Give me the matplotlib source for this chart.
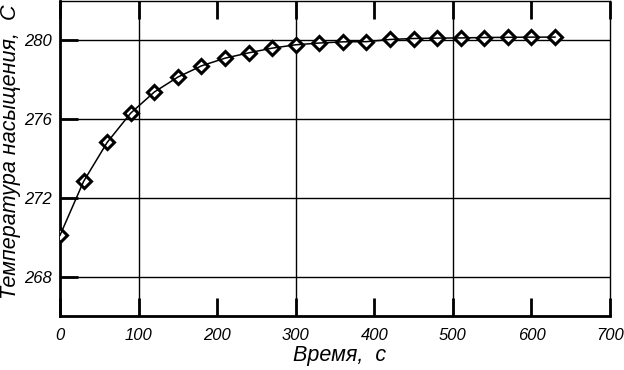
import matplotlib
matplotlib.use("Agg")
import matplotlib.pyplot as plt

time_s = [0, 30, 60, 90, 120, 150, 180, 210, 240, 270, 300,
          330, 360, 390, 420, 450, 480, 510, 540, 570, 600, 630]
t_sat = [270.1, 272.84, 274.82, 276.31, 277.38, 278.14, 278.71, 279.10,
         279.37, 279.61, 279.78, 279.87, 279.93, 279.94, 280.05, 280.1,
         280.12, 280.13, 280.15, 280.16, 280.17, 280.17]

x_ticks = [0, 100, 200, 300, 400, 500, 600, 700]
y_ticks = [268, 272, 276, 280]

plt.rcParams["font.family"] = ["Liberation Sans", "DejaVu Sans"]

fig = plt.figure(figsize=(6.24, 3.70), dpi=100)
ax = fig.add_axes([0.0962, 0.146, 0.8814, 0.851])

# grid only at some of the ticks, as in the original
for xv in [100, 300, 500]:
    ax.axvline(xv, color="black", lw=1.0, zorder=1)
for yv in y_ticks:
    ax.axhline(yv, color="black", lw=1.0, zorder=1)

# markers first, then the line through them
ax.plot(time_s, t_sat, linestyle="none", marker="D", ms=7.5,
        mfc="white", mec="black", mew=2.2, zorder=3)
ax.plot(time_s, t_sat, color="black", lw=1.1, zorder=4)

ax.set_xlim(0, 700)
ax.set_ylim(266, 282)
ax.set_xticks(x_ticks)
ax.set_yticks(y_ticks)
ax.tick_params(axis="both", direction="in", length=13, width=2,
               labelsize=12)
ax.tick_params(axis="x", top=True, pad=9)
ax.tick_params(axis="y", pad=6)
for lab in ax.get_xticklabels() + ax.get_yticklabels():
    lab.set_style("italic")

ax.spines["left"].set_linewidth(2)
ax.spines["bottom"].set_linewidth(2)
ax.spines["top"].set_linewidth(1)
ax.spines["right"].set_linewidth(1)

ax.set_xlabel("Время,  с", fontsize=15.5, style="italic")
ax.set_ylabel("Температура насыщения,  С", fontsize=15.5, style="italic")
ax.xaxis.set_label_coords(0.509, -0.092)
ax.yaxis.set_label_coords(-0.071, 0.52)

fig.savefig("out.png", dpi=100)
plt.close(fig)
